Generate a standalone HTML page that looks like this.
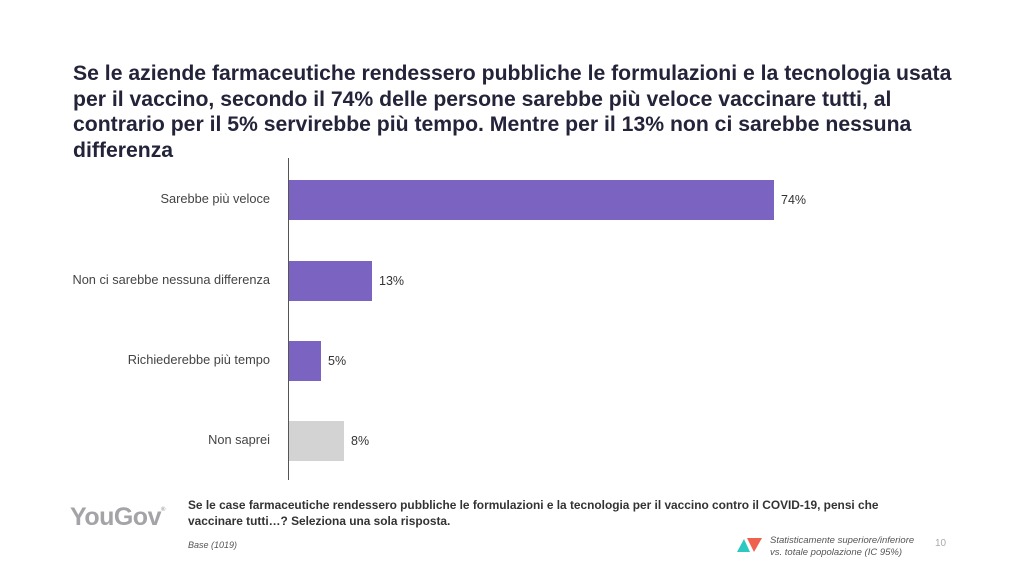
<!DOCTYPE html>
<html><head><meta charset="utf-8"><style>
body{margin:0;width:1024px;height:576px;background:#fff;position:relative;font-family:"Liberation Sans",sans-serif;overflow:hidden}
.t{position:absolute;left:73px;top:61px;width:895px;font-size:21.2px;font-weight:bold;line-height:25.5px;color:#23233a}
.ax{position:absolute;left:288px;top:158px;width:1px;height:322px;background:#555}
.bar{position:absolute;left:289px;height:40px;background:#7b63c2}
.lab{position:absolute;right:754px;font-size:12.8px;color:#444;text-align:right;white-space:nowrap}
.v{position:absolute;font-size:12.5px;color:#333}
</style></head><body>
<div class="t">Se le aziende farmaceutiche rendessero pubbliche le formulazioni e la tecnologia usata per il vaccino, secondo il 74% delle persone sarebbe più veloce vaccinare tutti, al contrario per il 5% servirebbe più tempo. Mentre per il 13% non ci sarebbe nessuna differenza</div>
<div class="ax"></div>
<div class="bar" style="top:180px;width:485px"></div><div class="lab" style="top:191px">Sarebbe più veloce</div><div class="v" style="left:781px;top:193px">74%</div>
<div class="bar" style="top:261px;width:83px"></div><div class="lab" style="top:272px">Non ci sarebbe nessuna differenza</div><div class="v" style="left:379px;top:274px">13%</div>
<div class="bar" style="top:341px;width:32px"></div><div class="lab" style="top:352px">Richiederebbe più tempo</div><div class="v" style="left:328px;top:354px">5%</div>
<div class="bar" style="top:421px;width:55px;background:#d3d3d3"></div><div class="lab" style="top:432px">Non saprei</div><div class="v" style="left:351px;top:434px">8%</div>
<div style="position:absolute;left:70px;top:503px;font-size:25px;font-weight:bold;color:#a3a3a8;letter-spacing:-0.5px">YouGov<sup style="font-size:6px;vertical-align:14px">®</sup></div>
<div style="position:absolute;left:188px;top:497px;font-size:11.9px;font-weight:bold;line-height:16px;color:#333;width:720px">Se le case farmaceutiche rendessero pubbliche le formulazioni e la tecnologia per il vaccino contro il COVID-19, pensi che vaccinare tutti…? Seleziona una sola risposta.</div>
<div style="position:absolute;left:188px;top:540px;font-size:9px;font-style:italic;color:#555">Base (1019)</div>
<svg style="position:absolute;left:737px;top:536px" width="26" height="18"><polygon points="0,16 7,3 13,16" fill="#2ec8c2"/><polygon points="10,2 25,2 17,16" fill="#f0604e"/></svg>
<div style="position:absolute;left:770px;top:535px;font-size:9.5px;font-style:italic;color:#555;line-height:12px">Statisticamente superiore/inferiore<br>vs. totale popolazione (IC 95%)</div>
<div style="position:absolute;left:935px;top:538px;font-size:10px;color:#aaa">10</div>
</body></html>
